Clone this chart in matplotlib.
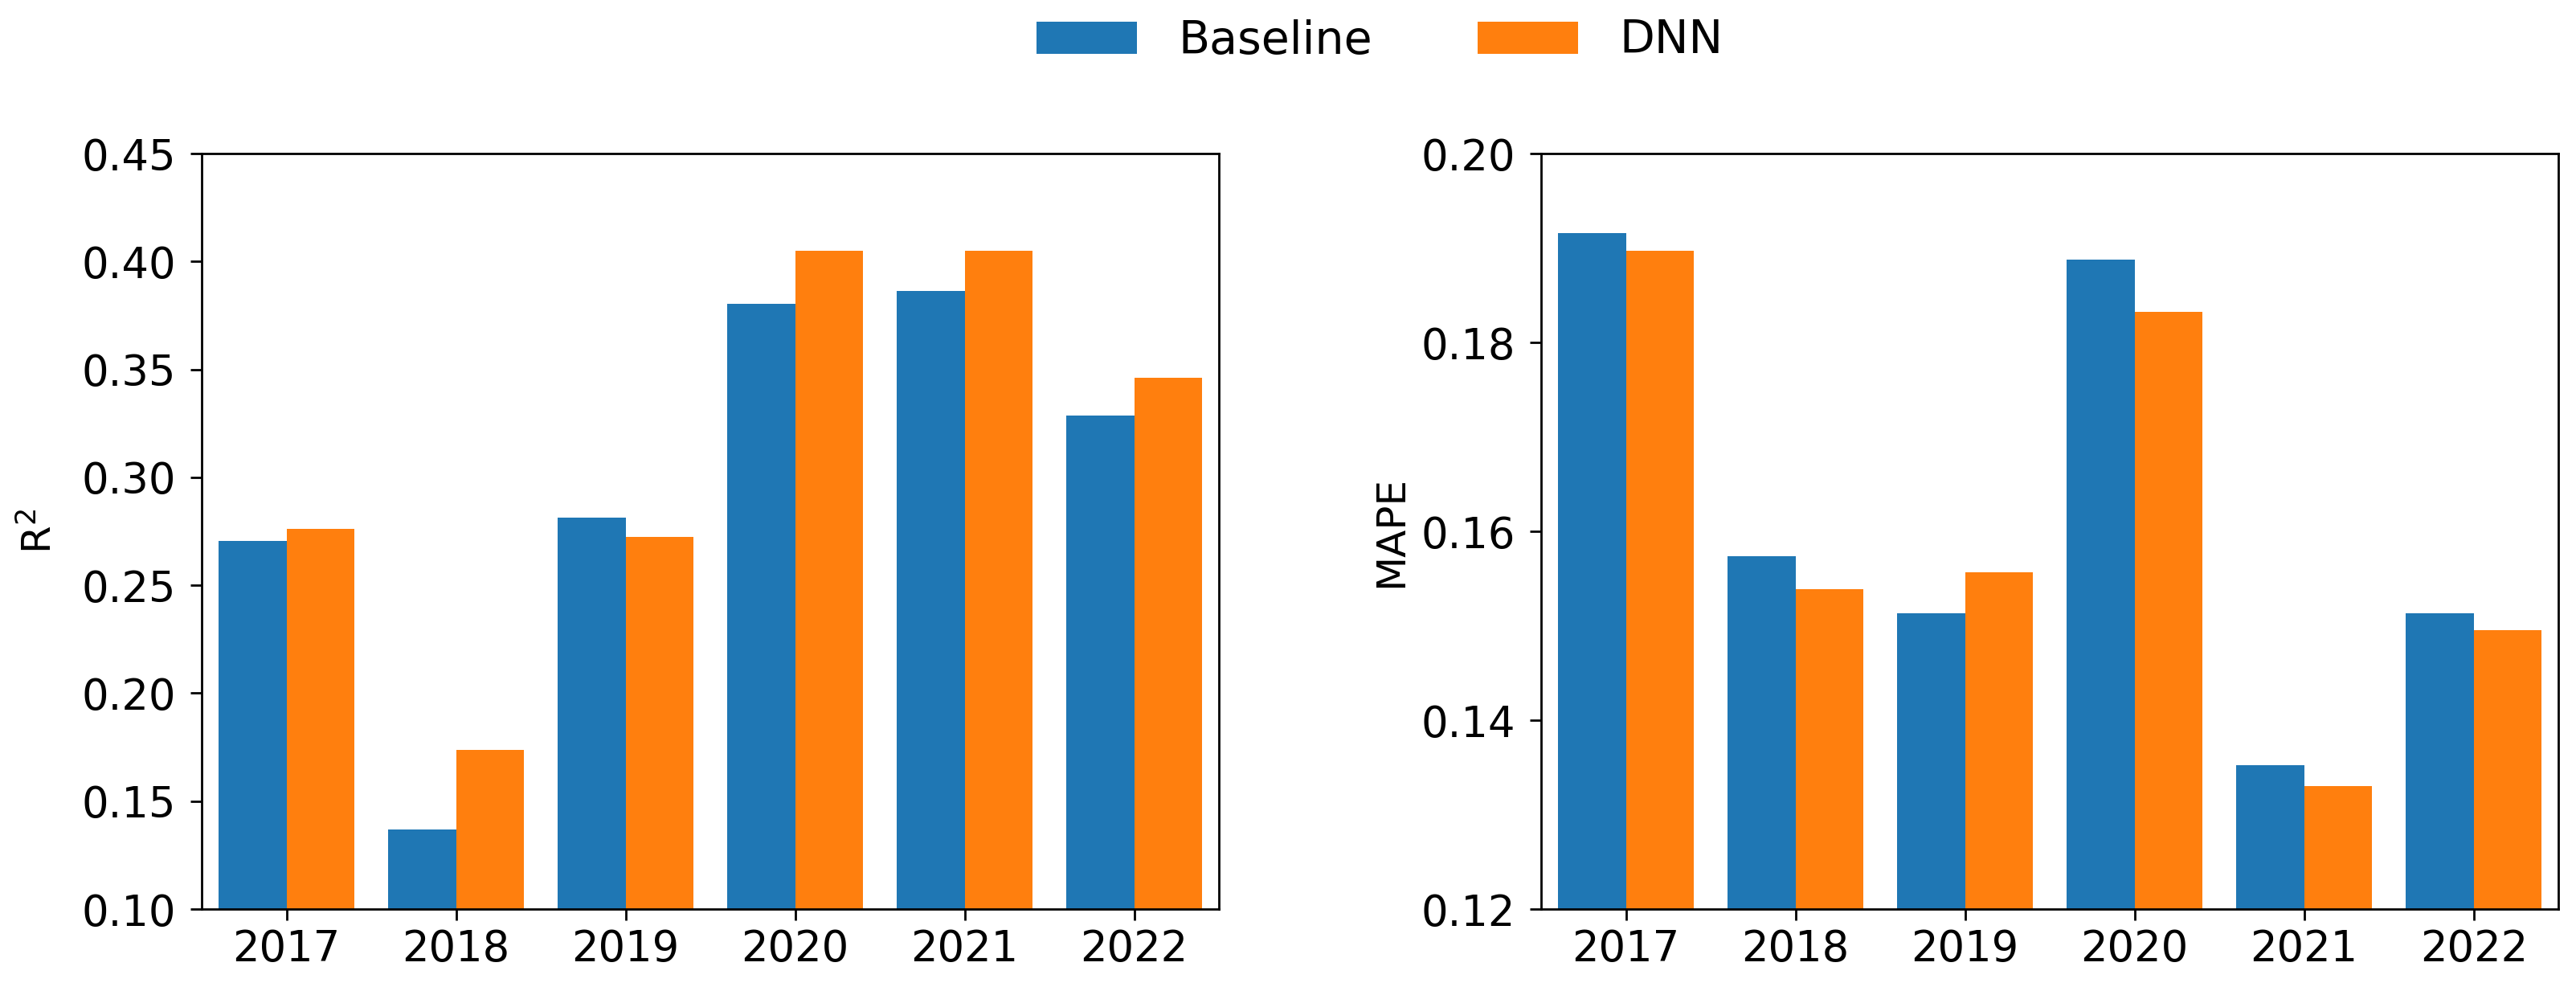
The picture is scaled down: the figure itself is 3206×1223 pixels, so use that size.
import numpy as np
import matplotlib
matplotlib.use('Agg')
import matplotlib.pyplot as plt
from matplotlib.ticker import FormatStrFormatter

years = ['2017', '2018', '2019', '2020', '2021', '2022']

r2_baseline = [0.2705, 0.1368, 0.2815, 0.3804, 0.3862, 0.3285]
r2_dnn = [0.2760, 0.1737, 0.2725, 0.4050, 0.4050, 0.3462]

mape_baseline = [0.1916, 0.1574, 0.1513, 0.1888, 0.1352, 0.1513]
mape_dnn = [0.1897, 0.1539, 0.1557, 0.1832, 0.1330, 0.1495]

r2_ticks = [0.10, 0.15, 0.20, 0.25, 0.30, 0.35, 0.40, 0.45]
mape_ticks = [0.12, 0.14, 0.16, 0.18, 0.20]

BLUE = '#1f77b4'
ORANGE = '#ff7f0e'


def draw_panel(ax, base, dnn, ticks, ylabel, labelpad):
    x = np.arange(len(years))
    w = 0.4
    b1 = ax.bar(x - w/2, base, width=w, color=BLUE, label='Baseline')
    b2 = ax.bar(x + w/2, dnn, width=w, color=ORANGE, label='DNN')
    ax.set_xlim(-0.5, len(years) - 0.5)
    ax.set_ylim(ticks[0], ticks[-1])
    ax.set_xticks(x)
    ax.set_xticklabels(years)
    ax.set_yticks(ticks)
    ax.yaxis.set_major_formatter(FormatStrFormatter('%.2f'))
    ax.tick_params(axis='both', labelsize=19, length=5, width=1.0)
    ax.tick_params(axis='y', pad=6.5)
    ax.tick_params(axis='x', pad=3.5)
    ax.set_ylabel(ylabel, fontsize=18, labelpad=labelpad)
    for s in ax.spines.values():
        s.set_linewidth(1.0)
    return b1, b2


fig = plt.figure(figsize=(16.03, 6.115), dpi=200)
ax1 = fig.add_axes([0.0783, 0.0752, 0.3949, 0.7686])
ax2 = fig.add_axes([0.5983, 0.0752, 0.3949, 0.7686])

h1, h2 = draw_panel(ax1, r2_baseline, r2_dnn, r2_ticks, r'R$^2$', 10)
draw_panel(ax2, mape_baseline, mape_dnn, mape_ticks, 'MAPE', 5)

fig.legend([h1, h2], ['Baseline', 'DNN'], loc='center',
           bbox_to_anchor=(1717/3206, 1 - 51/1223), ncol=2, frameon=False,
           fontsize=20.5, handlelength=2.2, handleheight=0.7,
           handletextpad=0.9, columnspacing=2.3)

plt.savefig('out.png', dpi=200)
